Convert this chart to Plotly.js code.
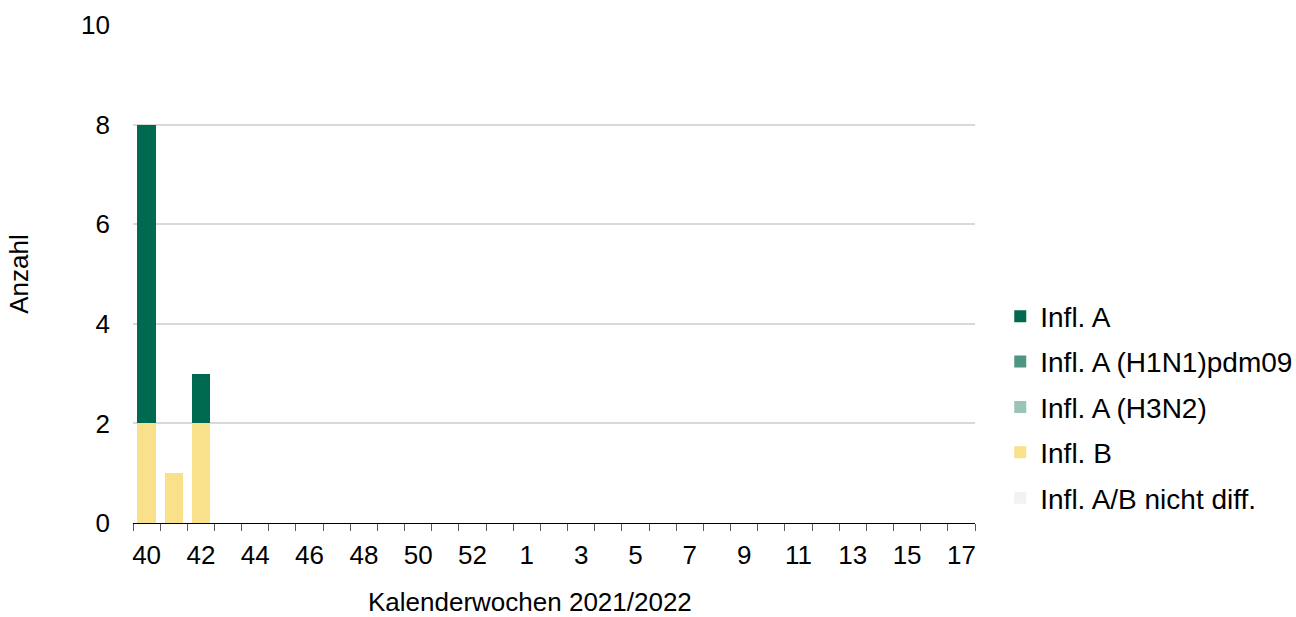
<!DOCTYPE html>
<html>
<head>
<meta charset="utf-8">
<script src="https://cdn.plot.ly/plotly-3.0.1.min.js"></script>
<style>html,body{margin:0;padding:0;background:#fff;}#chart{width:1296px;height:617px;}</style>
</head>
<body>
<div id="chart"></div>
<script>
var weeks = ["40","41","42","43","44","45","46","47","48","49","50","51","52","53","1","2","3","4","5","6","7","8","9","10","11","12","13","14","15","16","17"];
var tickLabels = ["40","","42","","44","","46","","48","","50","","52","","1","","3","","5","","7","","9","","11","","13","","15","","17"];
var inflA      = [6,0,1,0,0,0,0,0,0,0,0,0,0,0,0,0,0,0,0,0,0,0,0,0,0,0,0,0,0,0,0];
var inflH1N1   = [0,0,0,0,0,0,0,0,0,0,0,0,0,0,0,0,0,0,0,0,0,0,0,0,0,0,0,0,0,0,0];
var inflH3N2   = [0,0,0,0,0,0,0,0,0,0,0,0,0,0,0,0,0,0,0,0,0,0,0,0,0,0,0,0,0,0,0];
var inflB      = [2,1,2,0,0,0,0,0,0,0,0,0,0,0,0,0,0,0,0,0,0,0,0,0,0,0,0,0,0,0,0];
var inflNotDiff= [0,0,0,0,0,0,0,0,0,0,0,0,0,0,0,0,0,0,0,0,0,0,0,0,0,0,0,0,0,0,0];
var xTitle = 'Kalenderwochen 2021/2022';
var yTitle = 'Anzahl';

function bar(name, y, color, rank) {
  return {type:'bar', name:name, x:weeks, y:y, marker:{color:color, line:{width:0}},
          legendrank:rank, legendgroup:name, hoverinfo:'x+y+name'};
}
var data = [
  bar('Infl. B', inflB, '#f9e08a', 4),
  bar('Infl. A (H3N2)', inflH3N2, '#99c4b8', 3),
  bar('Infl. A (H1N1)pdm09', inflH1N1, '#4d9684', 2),
  bar('Infl. A', inflA, '#006a50', 1),
  bar('Infl. A/B nicht diff.', inflNotDiff, '#f2f2f2', 5)
];
var layout = {
  width:1296, height:617,
  margin:{l:133, r:321, t:25, b:94, autoexpand:false},
  paper_bgcolor:'#fff', plot_bgcolor:'#fff',
  font:{family:'Liberation Sans, Arial, sans-serif', size:26, color:'#000'},
  barmode:'stack', bargap:0.33,
  showlegend:true,
  legend:{x:1.03, xanchor:'left', y:0.233, yanchor:'middle', traceorder:'grouped',
          font:{size:28}, tracegroupgap:6, bgcolor:'rgba(0,0,0,0)'},
  xaxis:{type:'category', categoryorder:'array', categoryarray:weeks,
         tickvals:weeks, ticktext:tickLabels, tickson:'boundaries', tickangle:0,
         ticks:'outside', ticklen:7, tickcolor:'#595959', tickwidth:1,
         showline:true, linecolor:'#000', linewidth:1, showgrid:false,
         ticklabelstandoff:9, tickfont:{size:26}},
  yaxis:{range:[0,10], dtick:2, showgrid:true, gridcolor:'#d9d9d9', gridwidth:2,
         zeroline:false, showline:false, ticks:'', ticklabelstandoff:22, tickfont:{size:26},
         title:{text:yTitle, font:{size:26}, standoff:44}},
  annotations:[{text:xTitle, xref:'paper', yref:'paper', x:0.4715, y:-0.1586,
                xanchor:'center', yanchor:'middle', showarrow:false, font:{size:26}}]
};
Plotly.newPlot('chart', data, layout, {displayModeBar:false, staticPlot:true});
</script>
</body>
</html>
